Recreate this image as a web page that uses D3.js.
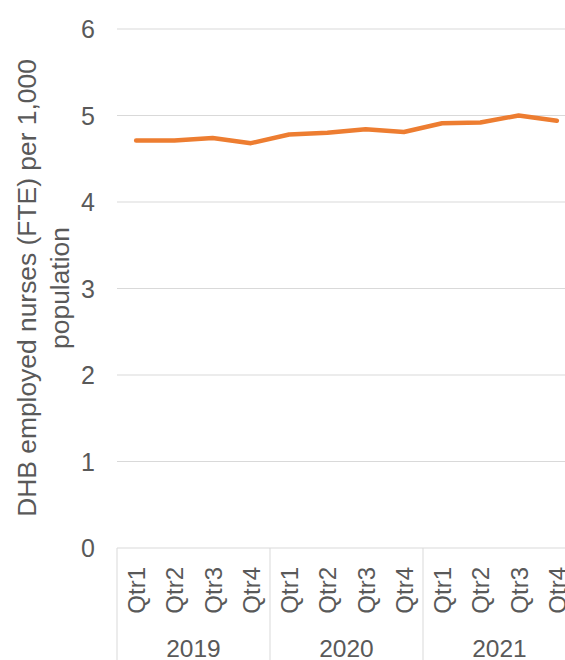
<!DOCTYPE html>
<html><head><meta charset="utf-8">
<script src="https://cdn.jsdelivr.net/npm/d3@7"></script>
<style>body{margin:0;background:#fff;overflow:hidden}svg{display:block}text{font-family:"Liberation Sans",Arial,sans-serif;fill:#595959}</style>
</head><body>
<script>
const years = ["2019","2020","2021"];
const quarters = ["Qtr1","Qtr2","Qtr3","Qtr4"];
const values = [4.71,4.71,4.74,4.68,4.78,4.80,4.84,4.81,4.91,4.92,5.00,4.94];
const yTicks = [0,1,2,3,4,5,6];
const yTitle = ["DHB employed nurses (FTE) per 1,000","population"];

(function(){
const W=565,H=660;
const svg=d3.select("body").append("svg").attr("width",W).attr("height",H);
const cats=[];years.forEach(y=>quarters.forEach(q=>cats.push(y+"-"+q)));
const pL=117, pR=117+12*38.25, pT=29, pB=548;
const x=d3.scaleBand().domain(cats).range([pL,pR]);
const y=d3.scaleLinear().domain([0,6]).range([pB,pT]);

svg.append("g").selectAll("line").data(yTicks.filter(d=>d>0)).join("line")
 .attr("x1",pL).attr("x2",pR).attr("y1",d=>y(d)).attr("y2",d=>y(d))
 .attr("stroke","#d9d9d9").attr("stroke-width",1);
svg.append("line").attr("x1",pL).attr("x2",pR).attr("y1",y(0)).attr("y2",y(0)).attr("stroke","#d9d9d9");
svg.append("g").selectAll("text").data(yTicks).join("text")
 .attr("x",95).attr("y",d=>y(d)).attr("dy","0.36em").attr("text-anchor","end")
 .attr("font-size",25).text(d=>d);
const yt=svg.append("text").attr("transform","translate(45,288) rotate(-90)").attr("text-anchor","middle").attr("font-size",26.4);
yt.selectAll("tspan").data(yTitle).join("tspan").attr("x",0).attr("y",(d,i)=>i===0?-9:24).text(d=>d);
const groupEdges=[0,4,8,12].map(i=>pL+i*x.step());
svg.append("g").selectAll("line").data(groupEdges).join("line")
 .attr("x1",d=>d).attr("x2",d=>d).attr("y1",pB).attr("y2",H)
 .attr("stroke","#d9d9d9");
svg.append("g").selectAll("text").data(cats).join("text")
 .attr("transform",d=>`translate(${x(d)+x.bandwidth()/2+9},567) rotate(-90)`)
 .attr("text-anchor","end").attr("font-size",24).text(d=>d.split("-")[1]);
svg.append("g").selectAll("text").data(years).join("text")
 .attr("x",(d,i)=>pL+(i*4+2)*x.step()).attr("y",657).attr("text-anchor","middle")
 .attr("font-size",24.5).text(d=>d);
const line=d3.line().x((d,i)=>x(cats[i])+x.bandwidth()/2).y(d=>y(d));
svg.append("path").datum(values).attr("d",line).attr("fill","none")
 .attr("stroke","#ED7D31").attr("stroke-width",4.5).attr("stroke-linejoin","round").attr("stroke-linecap","round");
})();
</script>
</body></html>
